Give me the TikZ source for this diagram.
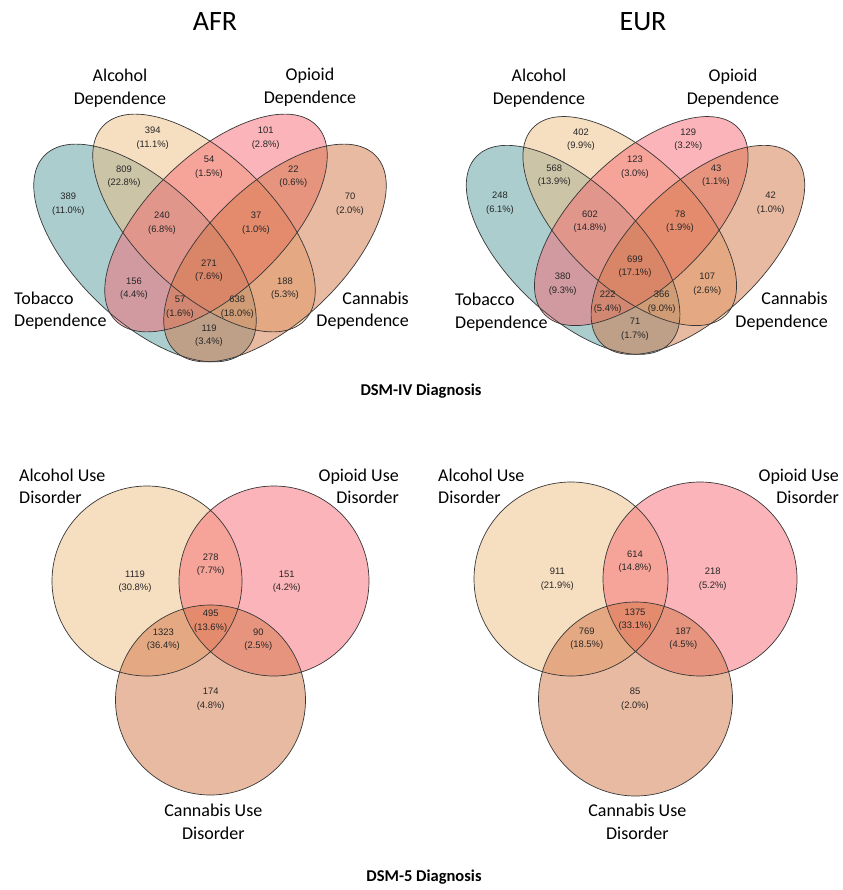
\documentclass[tikz,border=0pt]{standalone}
\usepackage{fontspec}
\setmainfont{Carlito}
\newfontfamily\numfont{Liberation Sans}
\definecolor{tobacco}{RGB}{87,155,157}
\definecolor{alcohol}{RGB}{237,189,129}
\definecolor{opioid}{RGB}{247,105,115}
\definecolor{cannabis}{RGB}{211,117,69}
\definecolor{edge}{RGB}{55,55,55}

\begin{document}
\begin{tikzpicture}[x=1pt,y=-1pt,
  outline/.style={draw=edge,line width=0.7pt},
  countlbl/.style={align=center,inner sep=0pt,text=black!85,font=\numfont\fontsize{9.4}{13.3}\selectfont},
  setlbl/.style={inner sep=0pt,font=\fontsize{18}{22.5}\selectfont},
  headlbl/.style={inner sep=0pt,font=\fontsize{28}{30}\selectfont},
  caplbl/.style={inner sep=0pt,font=\bfseries\fontsize{16.5}{18}\selectfont}]
    \useasboundingbox (0,0) rectangle (842,890);

    % DSM-IV, four ellipses
    \begin{scope}[shift={(210,250)}]
      \foreach \cx/\cy/\ang/\col in {-65/3/-44/tobacco,-6/-27/-44/alcohol,6/-27/44/opioid,65/3/44/cannabis}
        \fill[\col,fill opacity=0.5,shift={(\cx,\cy)},rotate=\ang] (0,0) ellipse [x radius=140,y radius=68];
      \foreach \cx/\cy/\ang in {-65/3/-44,-6/-27/-44,6/-27/44,65/3/44}
        \draw[outline,shift={(\cx,\cy)},rotate=\ang] (0,0) ellipse [x radius=140,y radius=68];
    \end{scope}
    \begin{scope}[shift={(635.5,247)},scale=0.96]
      \foreach \cx/\cy/\ang/\col in {-65/3/-44/tobacco,-6/-27/-44/alcohol,6/-27/44/opioid,65/3/44/cannabis}
        \fill[\col,fill opacity=0.5,shift={(\cx,\cy)},rotate=\ang] (0,0) ellipse [x radius=140,y radius=68];
      \foreach \cx/\cy/\ang in {-65/3/-44,-6/-27/-44,6/-27/44,65/3/44}
        \draw[outline,shift={(\cx,\cy)},rotate=\ang] (0,0) ellipse [x radius=140,y radius=68];
    \end{scope}

    % DSM-5, three circles
    \fill[alcohol,fill opacity=0.5] (147,581) circle [radius=95];
    \fill[opioid,fill opacity=0.5] (274,581) circle [radius=95];
    \fill[cannabis,fill opacity=0.5] (210.5,700) circle [radius=95];
    \draw[outline] (147,581) circle [radius=95] (274,581) circle [radius=95] (210.5,700) circle [radius=95];
    \fill[alcohol,fill opacity=0.5] (571,579) circle [radius=97];
    \fill[opioid,fill opacity=0.5] (700,579) circle [radius=97];
    \fill[cannabis,fill opacity=0.5] (635.5,699) circle [radius=97];
    \draw[outline] (571,579) circle [radius=97] (700,579) circle [radius=97] (635.5,699) circle [radius=97];

    \node[headlbl] (afr) at (215,22) {AFR};
    \node[headlbl] (eur) at (643,22) {EUR};
    \node[caplbl] (dsm4) at (421,391) {DSM-IV Diagnosis};
    \node[caplbl] (dsm5) at (424,877) {DSM-5 Diagnosis};

    \node[setlbl,align=center] (afr-alc) at (120,88) {Alcohol\\Dependence};
    \node[setlbl,align=center] (afr-opi) at (310,87) {Opioid\\Dependence};
    \node[setlbl,align=left,anchor=west] (afr-tob) at (14,310.5) {Tobacco\\Dependence};
    \node[setlbl,align=right,anchor=east] (afr-can) at (409,310.5) {Cannabis\\Dependence};
    \node[setlbl,align=center] (eur-alc) at (539,88) {Alcohol\\Dependence};
    \node[setlbl,align=center] (eur-opi) at (733,88) {Opioid\\Dependence};
    \node[setlbl,align=left,anchor=west] (eur-tob) at (455,312) {Tobacco\\Dependence};
    \node[setlbl,align=right,anchor=east] (eur-can) at (828,311) {Cannabis\\Dependence};

    \node[countlbl] (afr-a) at (152.7,138.3) {394\\(11.1\%)};
    \node[countlbl] (afr-o) at (265.7,138.3) {101\\(2.8\%)};
    \node[countlbl] (afr-ta) at (124,176.7) {809\\(22.8\%)};
    \node[countlbl] (afr-ao) at (209,167.3) {54\\(1.5\%)};
    \node[countlbl] (afr-oc) at (293.3,176.7) {22\\(0.6\%)};
    \node[countlbl] (afr-t) at (68.3,204.3) {389\\(11.0\%)};
    \node[countlbl] (afr-c) at (350,204.3) {70\\(2.0\%)};
    \node[countlbl] (afr-tao) at (162,223.3) {240\\(6.8\%)};
    \node[countlbl] (afr-aoc) at (256,223.3) {37\\(1.0\%)};
    \node[countlbl] (afr-taoc) at (209,270.7) {271\\(7.6\%)};
    \node[countlbl] (afr-to) at (134,289) {156\\(4.4\%)};
    \node[countlbl] (afr-ac) at (285,289) {188\\(5.3\%)};
    \node[countlbl] (afr-toc) at (180,307.3) {57\\(1.6\%)};
    \node[countlbl] (afr-tac) at (237.3,307.3) {638\\(18.0\%)};
    \node[countlbl] (afr-tc) at (209,336) {119\\(3.4\%)};

    \node[countlbl] (eur-a) at (581,140) {402\\(9.9\%)};
    \node[countlbl] (eur-o) at (688.3,140) {129\\(3.2\%)};
    \node[countlbl] (eur-ta) at (554.3,176) {568\\(13.9\%)};
    \node[countlbl] (eur-ao) at (635,167.3) {123\\(3.0\%)};
    \node[countlbl] (eur-oc) at (716,176) {43\\(1.1\%)};
    \node[countlbl] (eur-t) at (500,203.3) {248\\(6.1\%)};
    \node[countlbl] (eur-c) at (770.7,203.3) {42\\(1.0\%)};
    \node[countlbl] (eur-tao) at (590,221.7) {602\\(14.8\%)};
    \node[countlbl] (eur-aoc) at (680,221.7) {78\\(1.9\%)};
    \node[countlbl] (eur-taoc) at (635,266.7) {699\\(17.1\%)};
    \node[countlbl] (eur-to) at (562.7,284.3) {380\\(9.3\%)};
    \node[countlbl] (eur-ac) at (707.3,284.3) {107\\(2.6\%)};
    \node[countlbl] (eur-toc) at (607.7,302.3) {222\\(5.4\%)};
    \node[countlbl] (eur-tac) at (661.7,302.3) {366\\(9.0\%)};
    \node[countlbl] (eur-tc) at (635,329.3) {71\\(1.7\%)};

    \node[setlbl,align=left,anchor=west] (afr5-alc) at (19,486.3) {Alcohol Use\\Disorder};
    \node[setlbl,align=right,anchor=east] (afr5-opi) at (399,486.3) {Opioid Use\\Disorder};
    \node[setlbl,align=center] (afr5-can) at (213.3,822) {Cannabis Use\\Disorder};
    \node[setlbl,align=left,anchor=west] (eur5-alc) at (438,486.3) {Alcohol Use\\Disorder};
    \node[setlbl,align=right,anchor=east] (eur5-opi) at (839,486.3) {Opioid Use\\Disorder};
    \node[setlbl,align=center] (eur5-can) at (637.3,822) {Cannabis Use\\Disorder};

    \node[countlbl] (afr5-a) at (135,581.7) {1119\\(30.8\%)};
    \node[countlbl] (afr5-ao) at (210.7,564.7) {278\\(7.7\%)};
    \node[countlbl] (afr5-o) at (286.7,581.7) {151\\(4.2\%)};
    \node[countlbl] (afr5-aoc) at (210.7,621.3) {495\\(13.6\%)};
    \node[countlbl] (afr5-ac) at (163.3,640) {1323\\(36.4\%)};
    \node[countlbl] (afr5-oc) at (258.3,640) {90\\(2.5\%)};
    \node[countlbl] (afr5-c) at (210.7,699.3) {174\\(4.8\%)};

    \node[countlbl] (eur5-a) at (557.3,579.3) {911\\(21.9\%)};
    \node[countlbl] (eur5-ao) at (635,562) {614\\(14.8\%)};
    \node[countlbl] (eur5-o) at (712.7,579.3) {218\\(5.2\%)};
    \node[countlbl] (eur5-aoc) at (635,619.7) {1375\\(33.1\%)};
    \node[countlbl] (eur5-ac) at (586.7,639) {769\\(18.5\%)};
    \node[countlbl] (eur5-oc) at (683.3,639) {187\\(4.5\%)};
    \node[countlbl] (eur5-c) at (635,699.3) {85\\(2.0\%)};
\end{tikzpicture}
\end{document}
